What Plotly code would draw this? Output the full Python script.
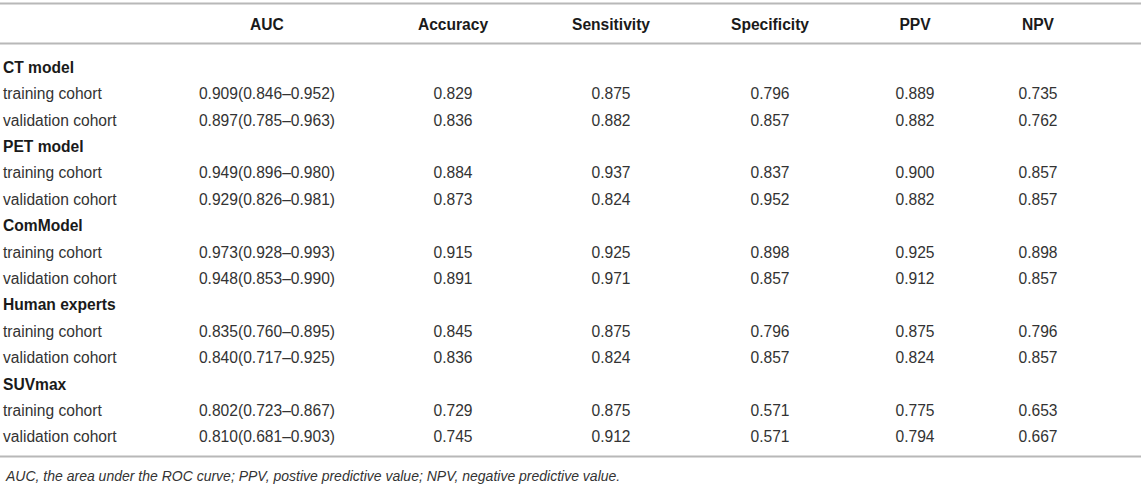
import plotly.graph_objects as go

# ---- data ----
columns = ["AUC", "Accuracy", "Sensitivity", "Specificity", "PPV", "NPV"]
groups = ["CT model", "PET model", "ComModel", "Human experts", "SUVmax"]
cohorts = ["training cohort", "validation cohort"]

auc = [
    ["0.909(0.846–0.952)", "0.897(0.785–0.963)"],
    ["0.949(0.896–0.980)", "0.929(0.826–0.981)"],
    ["0.973(0.928–0.993)", "0.948(0.853–0.990)"],
    ["0.835(0.760–0.895)", "0.840(0.717–0.925)"],
    ["0.802(0.723–0.867)", "0.810(0.681–0.903)"],
]
accuracy = [[0.829, 0.836], [0.884, 0.873], [0.915, 0.891], [0.845, 0.836], [0.729, 0.745]]
sensitivity = [[0.875, 0.882], [0.937, 0.824], [0.925, 0.971], [0.875, 0.824], [0.875, 0.912]]
specificity = [[0.796, 0.857], [0.837, 0.952], [0.898, 0.857], [0.796, 0.857], [0.571, 0.571]]
ppv = [[0.889, 0.882], [0.900, 0.882], [0.925, 0.912], [0.875, 0.824], [0.775, 0.794]]
npv = [[0.735, 0.762], [0.857, 0.857], [0.898, 0.857], [0.796, 0.857], [0.653, 0.667]]

footnote = ("AUC, the area under the ROC curve; PPV, postive predictive value; "
            "NPV, negative predictive value.")

# ---- layout constants ----
W, H = 1143, 484
col_x = [267, 453, 611, 770, 915, 1038]
label_x = 3
row0_px, row_step = 69, 26.4
FONT = "Liberation Sans, Arial, Helvetica, sans-serif"
TXT = "#333333"
HDR = "#1a1a1a"
FS = 15.6

def px_to_row(p):
    return (p - row0_px) / row_step

fig = go.Figure()

label_rows, label_texts, label_bold = [], [], []
metric_cols = [None, accuracy, sensitivity, specificity, ppv, npv]
cell_x, cell_y, cell_t = [], [], []
r = 0
for gi, g in enumerate(groups):
    label_rows.append(r); label_texts.append(g); label_bold.append(True)
    r += 1
    for ci, c in enumerate(cohorts):
        label_rows.append(r); label_texts.append(c); label_bold.append(False)
        for k in range(len(columns)):
            if k == 0:
                val = auc[gi][ci]
            else:
                val = f"{metric_cols[k][gi][ci]:.3f}"
            cell_x.append(col_x[k]); cell_y.append(r); cell_t.append(val)
        r += 1

# header
fig.add_trace(go.Scatter(
    x=col_x, y=[px_to_row(26)] * len(columns), mode="text",
    text=[f"<b>{c}</b>" for c in columns], textposition="middle center",
    textfont=dict(family=FONT, size=FS, color=HDR), hoverinfo="skip", showlegend=False))

# row labels
fig.add_trace(go.Scatter(
    x=[label_x] * len(label_rows), y=label_rows, mode="text",
    text=[f"<b>{t}</b>" if b else t for t, b in zip(label_texts, label_bold)],
    textposition="middle right",
    textfont=dict(family=FONT, size=FS,
                  color=[HDR if b else TXT for b in label_bold]),
    hoverinfo="skip", showlegend=False))

# cells
fig.add_trace(go.Scatter(
    x=cell_x, y=cell_y, mode="text", text=cell_t, textposition="middle center",
    textfont=dict(family=FONT, size=FS, color=TXT), hoverinfo="skip", showlegend=False))

# horizontal rules
for p in [3.5, 43.5, 456.5]:
    fig.add_shape(type="line", xref="x", yref="y", x0=0, x1=1141,
                  y0=px_to_row(p), y1=px_to_row(p),
                  line=dict(color="#b8b8b8", width=2))

fig.add_annotation(x=label_x, y=px_to_row(476), xref="x", yref="y",
                   text=f"<i>{footnote}</i>", showarrow=False, xanchor="left",
                   yanchor="middle", font=dict(family=FONT, size=14, color=TXT))

fig.update_layout(
    width=W, height=H, margin=dict(l=0, r=0, t=0, b=0),
    paper_bgcolor="white", plot_bgcolor="white",
    xaxis=dict(range=[0, W], visible=False, fixedrange=True),
    yaxis=dict(range=[px_to_row(H), px_to_row(0)], visible=False, fixedrange=True),
)

fig.write_html("out.html", config={"displayModeBar": False},
               post_script="document.body.style.margin='0';document.body.style.overflow='hidden';")
